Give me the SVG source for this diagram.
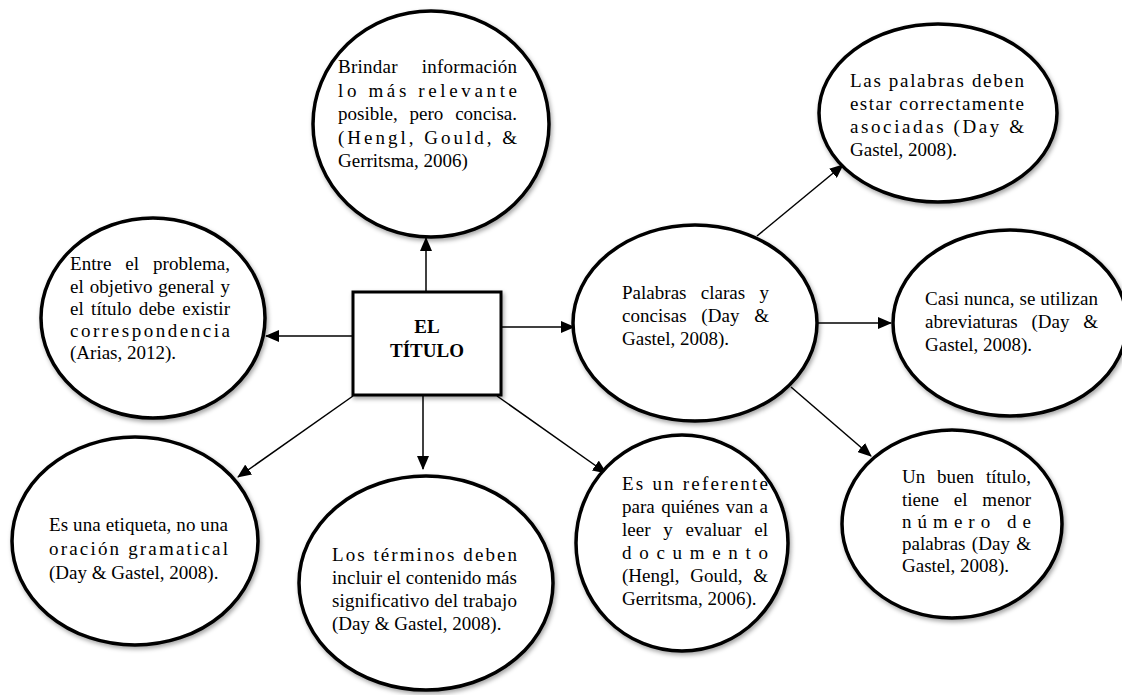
<svg xmlns="http://www.w3.org/2000/svg" width="1122" height="695" viewBox="0 0 1122 695">
<defs>
<filter id="sh" x="-10%" y="-10%" width="125%" height="125%">
<feDropShadow dx="1.5" dy="2.5" stdDeviation="2" flood-color="#000" flood-opacity="0.35"/>
</filter>
<marker id="ah" markerWidth="14" markerHeight="12" refX="13" refY="6" orient="auto" markerUnits="userSpaceOnUse">
<path d="M0,0 L14,6 L0,12 Z" fill="#000"/>
</marker>
</defs>
<style>
.bub{fill:#fff;stroke:#000;stroke-width:3.5;filter:url(#sh)}
.box{fill:#fff;stroke:#000;stroke-width:3;filter:url(#sh)}
.t{font-family:"Liberation Serif","Times New Roman",serif;font-size:19px;fill:#000}
.tb{font-family:"Liberation Serif","Times New Roman",serif;font-size:19px;font-weight:bold;fill:#000;text-anchor:middle}
.c{stroke:#000;stroke-width:1.5;fill:none;marker-end:url(#ah)}
</style>
<rect width="1122" height="695" fill="#fff"/>

<g id="connectors">
<line class="c" x1="426" y1="292" x2="426" y2="238"/>
<line class="c" x1="353" y1="336" x2="266" y2="336"/>
<line class="c" x1="501" y1="327" x2="574" y2="327"/>
<line class="c" x1="423" y1="396" x2="423" y2="469"/>
<line class="c" x1="353" y1="396" x2="238" y2="477"/>
<line class="c" x1="497" y1="396" x2="606" y2="473"/>
<line class="c" x1="757" y1="236" x2="843" y2="165"/>
<line class="c" x1="817" y1="323" x2="891" y2="323"/>
<line class="c" x1="791" y1="387" x2="871" y2="456"/>
</g>

<g id="titulo">
<rect class="box" x="353" y="292" width="148" height="103"/>
<text class="tb" x="427" y="333">EL</text>
<text class="tb" x="427" y="357">TÍTULO</text>
</g>

<g id="brindar">
<ellipse class="bub" cx="431" cy="124" rx="118" ry="113"/>
<text class="t" x="338" y="73" word-spacing="19" textLength="179" lengthAdjust="spacing">Brindar información</text>
<text class="t" x="338" y="97" textLength="179" lengthAdjust="spacing">lo más relevante</text>
<text class="t" x="338" y="120" word-spacing="7" textLength="179" lengthAdjust="spacing">posible, pero concisa.</text>
<text class="t" x="338" y="144" textLength="179" lengthAdjust="spacing">(Hengl, Gould, &amp;</text>
<text class="t" x="338" y="167">Gerritsma, 2006)</text>
</g>

<g id="entre">
<ellipse class="bub" cx="153" cy="318" rx="112" ry="100"/>
<text class="t" x="70" y="270" word-spacing="9" textLength="160" lengthAdjust="spacing">Entre el problema,</text>
<text class="t" x="70" y="293" word-spacing="1" textLength="160" lengthAdjust="spacing">el objetivo general y</text>
<text class="t" x="70" y="315" word-spacing="2.5" textLength="160" lengthAdjust="spacing">el título debe existir</text>
<text class="t" x="70" y="337" textLength="160" lengthAdjust="spacing">correspondencia</text>
<text class="t" x="70" y="359">(Arias, 2012).</text>
</g>

<g id="palabras-claras">
<ellipse class="bub" cx="695" cy="323" rx="122" ry="98"/>
<text class="t" x="622" y="299" word-spacing="9.5" textLength="147" lengthAdjust="spacing">Palabras claras y</text>
<text class="t" x="622" y="322" word-spacing="10" textLength="147" lengthAdjust="spacing">concisas (Day &amp;</text>
<text class="t" x="622" y="345">Gastel, 2008).</text>
</g>

<g id="las-palabras">
<ellipse class="bub" cx="938" cy="113" rx="119" ry="89"/>
<text class="t" x="850" y="87" textLength="174" lengthAdjust="spacing">Las palabras deben</text>
<text class="t" x="850" y="110" textLength="174" lengthAdjust="spacing">estar correctamente</text>
<text class="t" x="850" y="133" textLength="174" lengthAdjust="spacing">asociadas (Day &amp;</text>
<text class="t" x="850" y="156">Gastel, 2008).</text>
</g>

<g id="casi-nunca">
<ellipse class="bub" cx="1010" cy="323" rx="117" ry="93"/>
<text class="t" x="925" y="305" textLength="173" lengthAdjust="spacing">Casi nunca, se utilizan</text>
<text class="t" x="925" y="328" word-spacing="9" textLength="173" lengthAdjust="spacing">abreviaturas (Day &amp;</text>
<text class="t" x="925" y="351">Gastel, 2008).</text>
</g>

<g id="etiqueta">
<ellipse class="bub" cx="135" cy="541" rx="123" ry="104"/>
<text class="t" x="49" y="531" textLength="179" lengthAdjust="spacing">Es una etiqueta, no una</text>
<text class="t" x="49" y="555" textLength="179" lengthAdjust="spacing">oración gramatical</text>
<text class="t" x="49" y="579">(Day &amp; Gastel, 2008).</text>
</g>

<g id="terminos">
<ellipse class="bub" cx="426" cy="583" rx="127" ry="107"/>
<text class="t" x="332" y="561" textLength="185" lengthAdjust="spacing">Los términos deben</text>
<text class="t" x="332" y="584" textLength="185" lengthAdjust="spacing">incluir el contenido más</text>
<text class="t" x="332" y="607" textLength="185" lengthAdjust="spacing">significativo del trabajo</text>
<text class="t" x="332" y="630">(Day &amp; Gastel, 2008).</text>
</g>

<g id="referente">
<ellipse class="bub" cx="682" cy="543" rx="106" ry="108"/>
<text class="t" x="622" y="490" textLength="146" lengthAdjust="spacing">Es un referente</text>
<text class="t" x="622" y="513" word-spacing="1.5" textLength="146" lengthAdjust="spacing">para quiénes van a</text>
<text class="t" x="622" y="536" word-spacing="8" textLength="146" lengthAdjust="spacing">leer y evaluar el</text>
<text class="t" x="622" y="559" textLength="146" lengthAdjust="spacing">documento</text>
<text class="t" x="622" y="582" word-spacing="6" textLength="146" lengthAdjust="spacing">(Hengl, Gould, &amp;</text>
<text class="t" x="622" y="605">Gerritsma, 2006).</text>
</g>

<g id="buen-titulo">
<ellipse class="bub" cx="952" cy="524" rx="110" ry="94"/>
<text class="t" x="902" y="483" word-spacing="7" textLength="129" lengthAdjust="spacing">Un buen título,</text>
<text class="t" x="902" y="506" word-spacing="10" textLength="129" lengthAdjust="spacing">tiene el menor</text>
<text class="t" x="902" y="528" textLength="129" lengthAdjust="spacing">número de</text>
<text class="t" x="902" y="550" word-spacing="1.5" textLength="129" lengthAdjust="spacing">palabras (Day &amp;</text>
<text class="t" x="902" y="572">Gastel, 2008).</text>
</g>
</svg>
